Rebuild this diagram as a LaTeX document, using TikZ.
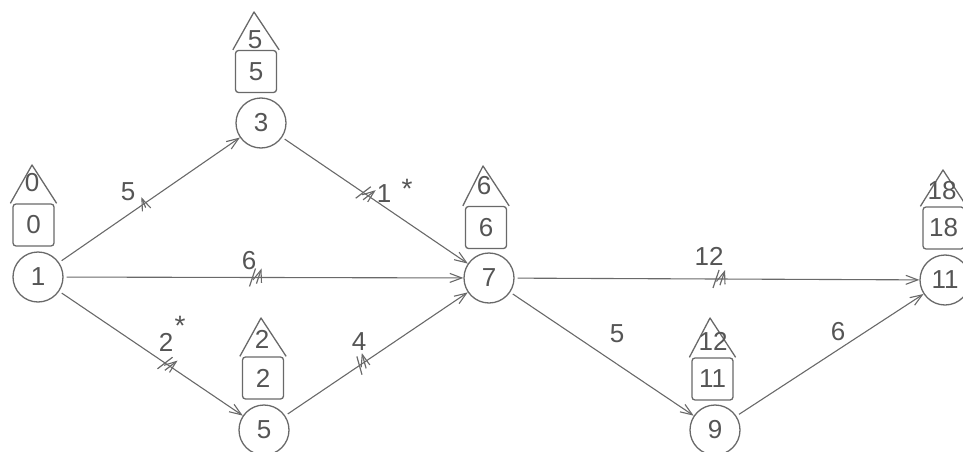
\documentclass[tikz,border=0pt]{standalone}
\usepackage{fontspec}
\setmainfont{Liberation Sans}
\usetikzlibrary{arrows.meta,calc}
\definecolor{ink}{RGB}{105,105,105}
\definecolor{txt}{RGB}{85,85,85}
\begin{document}
\begin{tikzpicture}[x=1pt,y=-1pt,
  ev/.style={circle,draw=ink,line width=1.3pt,minimum size=50pt,inner sep=0pt,text=txt,font=\fontsize{26}{26}\selectfont},
  bx/.style={draw=ink,line width=1.3pt,rounded corners=3pt,minimum width=41pt,minimum height=42pt,inner sep=0pt,text=txt,font=\fontsize{26}{26}\selectfont},
  roof/.style={draw=ink,line width=1.3pt,line join=round},
  lbl/.style={text=txt,inner sep=0pt,font=\fontsize{26}{26}\selectfont},
  star/.style={text=txt,inner sep=0pt,anchor=base,font=\fontsize{28}{28}\selectfont},
  act/.style={draw=ink,line width=1.1pt,shorten <=3pt,-{Straight Barb[length=12pt,width=9pt,line width=1.1pt]}},
  tickline/.style={draw=ink,line width=1.2pt},
  dtick/.pic={\draw[tickline] (-6pt,-9pt)--(0pt,9pt) (0pt,-9pt)--(6pt,9pt);},
  stick/.pic={\draw[tickline] (-1.5pt,-7pt)--(1.5pt,7pt);}
]
\useasboundingbox (0,0) rectangle (963,452);

% events
\node[ev] (n1) at (38,277) {1};
\node[ev] (n3) at (261,123) {3};
\node[ev] (n7) at (489,278) {7};
\node[ev] (n5) at (264,430) {5};
\node[ev] (n9) at (715,430) {9};
\node[ev] (n11) at (945,280) {11};

% houses: boxes
\node[bx] (b1) at (33.5,225) {0};
\node[bx] (b3) at (256,71.5) {5};
\node[bx] (b7) at (486,227.5) {6};
\node[bx] (b5) at (263,378) {2};
\node[bx] (b9) at (712.5,379) {11};
\node[bx] (b11) at (943.5,228) {18};

% roofs
\coordinate (a1) at (32,165);
\coordinate (a3) at (254,12);
\coordinate (a7) at (483,166);
\coordinate (a5) at (261,318);
\coordinate (a9) at (710,318);
\coordinate (a11) at (943,170);
\foreach \k in {1,3,7,5,9,11}{
  \draw[roof] ($(b\k.north west)+(-2,0)$) -- (a\k) -- ($(b\k.north east)+(2,0)$);
}
\node[lbl] (r1) at (32,183) {0};
\node[lbl] (r3) at (255,40) {5};
\node[lbl] (r7) at (484,186) {6};
\node[lbl] (r5) at (262,339) {2};
\node[lbl] (r9) at (713,341) {12};
\node[lbl] (r11) at (942,191) {18};

% activities
\draw[act] (n1) -- (n3) pic[pos=0.47,sloped]{stick};
\draw[act] (n3) -- (n7) pic[pos=0.45,sloped]{dtick};
\draw[act] (n1) -- (n7) pic[pos=0.48,sloped]{dtick};
\draw[act] (n1) -- (n5) pic[pos=0.59,sloped]{dtick};
\draw[act] (n5) -- (n7) pic[pos=0.42,sloped]{dtick};
\draw[act] (n7) -- (n11) pic[pos=0.505,sloped]{dtick};
\draw[act] (n7) -- (n9);
\draw[act] (n9) -- (n11);

% durations
\node[lbl] (d13) at (128,192) {5};
\node[lbl] (d37) at (384,194) {1};
\node[star] (s37) at (407,198) {*};
\node[lbl] (d17) at (249,261) {6};
\node[lbl] (d15) at (166,342) {2};
\node[star] (s15) at (180,335) {*};
\node[lbl] (d57) at (359,342) {4};
\node[lbl] (d711) at (709,256) {12};
\node[lbl] (d79) at (617,334) {5};
\node[lbl] (d911) at (838,332) {6};
\end{tikzpicture}
\end{document}
